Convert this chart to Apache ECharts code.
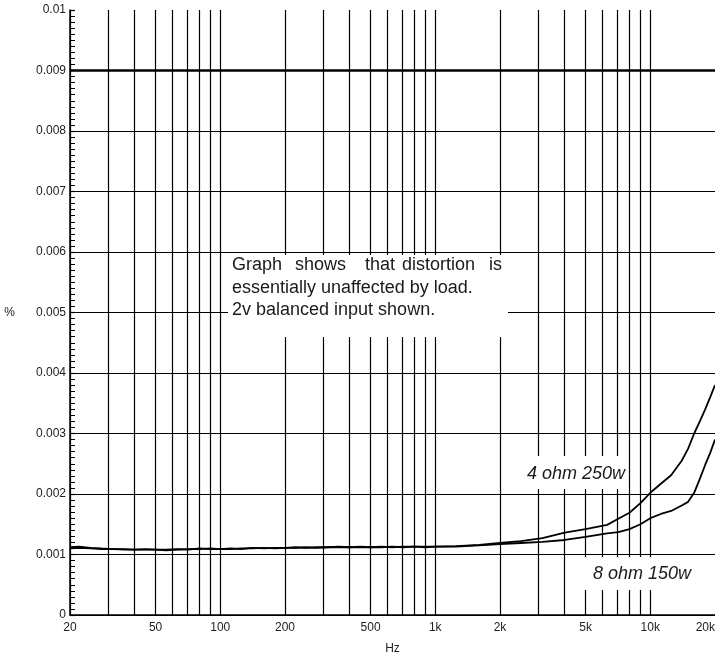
<!DOCTYPE html>
<html>
<head>
<meta charset="utf-8">
<script src="https://cdn.jsdelivr.net/npm/echarts@6/dist/echarts.min.js"></script>
<style>
  html, body { margin: 0; padding: 0; background: #fff; }
  #chart { width: 715px; height: 658px; }
</style>
</head>
<body>
<div id="chart"></div>
<script>
// THD+N vs frequency, two load conditions
const freqs = [20, 22, 25, 28, 32, 36, 40, 45, 50, 56, 63, 71, 80, 90, 100, 112, 125, 140, 160, 180,
  200, 225, 250, 280, 315, 355, 400, 450, 500, 560, 630, 710, 800, 900, 1000, 1250, 1600, 2000, 2500,
  3150, 4000, 5000, 6300, 7100, 8000, 9000, 10000, 11200, 12500, 14000, 15000, 16000, 17000, 18000,
  19000, 20000];

const thd4ohm = [0.00112, 0.00113, 0.00111, 0.00110, 0.00109, 0.00109, 0.00108, 0.00109, 0.00108, 0.00108,
  0.00109, 0.00108, 0.00110, 0.00109, 0.00109, 0.00110, 0.00109, 0.00111, 0.00110, 0.00111,
  0.00111, 0.00112, 0.00111, 0.00112, 0.00112, 0.00113, 0.00112, 0.00112, 0.00112, 0.00113,
  0.00112, 0.00113, 0.00113, 0.00113, 0.00113, 0.00114, 0.00116, 0.00119, 0.00122,
  0.00127, 0.00136, 0.00142, 0.00149, 0.00159, 0.00169, 0.00185, 0.00202, 0.00217, 0.00231, 0.00255,
  0.00275, 0.00300, 0.00320, 0.00340, 0.00360, 0.00380];

const thd8ohm = [0.00110, 0.00111, 0.00110, 0.00109, 0.00109, 0.00108, 0.00108, 0.00108, 0.00108, 0.00107,
  0.00108, 0.00109, 0.00109, 0.00110, 0.00109, 0.00109, 0.00110, 0.00110, 0.00111, 0.00110,
  0.00111, 0.00111, 0.00112, 0.00111, 0.00112, 0.00112, 0.00112, 0.00113, 0.00112, 0.00112,
  0.00113, 0.00112, 0.00113, 0.00112, 0.00113, 0.00113, 0.00115, 0.00117, 0.00119,
  0.00121, 0.00124, 0.00129, 0.00135, 0.00137, 0.00142, 0.00150, 0.00160, 0.00167, 0.00172, 0.00181,
  0.00187, 0.00202, 0.00225, 0.00248, 0.00268, 0.00290];

// Frequency axis: grid lines and labels
const gridFreqs = [20, 30, 40, 50, 60, 70, 80, 90, 100, 200, 300, 400, 500, 600, 700, 800, 900,
  1000, 2000, 3000, 4000, 5000, 6000, 7000, 8000, 9000, 10000];
const labelFreqs = [20, 50, 100, 200, 500, 1000, 2000, 5000, 10000, 20000];
const labelText = { 20: '20', 50: '50', 100: '100', 200: '200', 500: '500', 1000: '1k',
  2000: '2k', 5000: '5k', 10000: '10k', 20000: '20k' };

// Heavier reference grid line
const refLevel = 0.009;
const refSpan = [20, 20000];

const note = ['essentially unaffected by load.', '2v balanced input shown.'];
const noteFirstLine = ['Graph', 'shows', 'that', 'distortion', 'is'];

const chart = echarts.init(document.getElementById('chart'), null, { renderer: 'canvas' });

const textFont = '18px "Liberation Sans", Arial, sans-serif';
const italicFont = 'italic 18px "Liberation Sans", Arial, sans-serif';

const wordX = [232, 295, 365, 402, 489];

const graphics = [
  // white panels behind the annotations
  { type: 'rect', z: 50, shape: { x: 228, y: 255, width: 280, height: 82 }, style: { fill: '#fff' } },
  { type: 'rect', z: 50, shape: { x: 521, y: 456, width: 107, height: 33 }, style: { fill: '#fff' } },
  { type: 'rect', z: 50, shape: { x: 576, y: 557, width: 126, height: 33 }, style: { fill: '#fff' } },
  { type: 'text', z: 51, style: { text: note[0], x: 232, y: 288, font: textFont, fill: '#1a1a1a', textVerticalAlign: 'middle', verticalAlign: 'middle' } },
  { type: 'text', z: 51, style: { text: note[1], x: 232, y: 310, font: textFont, fill: '#1a1a1a', textVerticalAlign: 'middle', verticalAlign: 'middle' } },
  { type: 'text', z: 51, style: { text: '4 ohm 250w', x: 527, y: 474, font: italicFont, fill: '#1a1a1a', textVerticalAlign: 'middle', verticalAlign: 'middle' } },
  { type: 'text', z: 51, style: { text: '8 ohm 150w', x: 593, y: 574, font: italicFont, fill: '#1a1a1a', textVerticalAlign: 'middle', verticalAlign: 'middle' } }
];
noteFirstLine.forEach(function (w, i) {
  graphics.push({ type: 'text', z: 51, style: { text: w, x: wordX[i], y: 265, font: textFont, fill: '#1a1a1a', textVerticalAlign: 'middle', verticalAlign: 'middle' } });
});

function pairs(vals) {
  return freqs.map(function (f, i) { return [f, vals[i]]; });
}

chart.setOption({
  animation: false,
  backgroundColor: '#fff',
  grid: { left: 70, right: 0, top: 10, bottom: 43, containLabel: false, outerBoundsMode: 'none' },
  xAxis: {
    type: 'log',
    logBase: 10,
    min: 20,
    max: 20000,
    name: 'Hz',
    nameLocation: 'middle',
    nameGap: 28,
    nameTextStyle: { fontSize: 12, color: '#222', fontFamily: '"Liberation Sans", Arial, sans-serif' },
    axisLine: { show: true, lineStyle: { color: '#000', width: 1.5 } },
    axisTick: { show: false, customValues: gridFreqs },
    axisLabel: {
      customValues: labelFreqs,
      margin: 7,
      fontSize: 12,
      color: '#222',
      alignMaxLabel: 'right',
      fontFamily: '"Liberation Sans", Arial, sans-serif',
      formatter: function (v) { return labelText[Math.round(v)] || ''; }
    },
    splitLine: { show: true, lineStyle: { color: '#000', width: 1.2 } },
    minorTick: { show: false },
    minorSplitLine: { show: false }
  },
  yAxis: {
    type: 'value',
    min: 0,
    max: 0.01,
    interval: 0.001,
    name: '%',
    nameLocation: 'middle',
    nameRotate: 0,
    nameGap: 55,
    nameTextStyle: { fontSize: 12, color: '#222', fontFamily: '"Liberation Sans", Arial, sans-serif' },
    axisLine: { show: true, lineStyle: { color: '#000', width: 1.5 } },
    axisTick: { show: true, inside: true, length: 5, lineStyle: { color: '#000', width: 1.2 } },
    minorTick: { show: true, splitNumber: 10, length: 5, lineStyle: { color: '#000', width: 1 } },
    axisLabel: {
      margin: 4,
      fontSize: 12,
      color: '#222',
      fontFamily: '"Liberation Sans", Arial, sans-serif',
      formatter: function (v) {
        if (v === 0) return '0';
        return v.toFixed(3).replace(/0+$/, '');
      }
    },
    splitLine: { show: true, showMaxLine: false, lineStyle: { color: '#000', width: 1.2 } }
  },
  series: [
    {
      name: 'ref',
      type: 'line',
      data: refSpan.map(function (f) { return [f, refLevel]; }),
      showSymbol: false,
      symbol: 'none',
      silent: true,
      lineStyle: { color: '#000', width: 2.4 },
      z: 4
    },
    {
      name: '4 ohm 250w',
      type: 'line',
      data: pairs(thd4ohm),
      showSymbol: false,
      symbol: 'none',
      lineStyle: { color: '#000', width: 1.8 },
      z: 5
    },
    {
      name: '8 ohm 150w',
      type: 'line',
      data: pairs(thd8ohm),
      showSymbol: false,
      symbol: 'none',
      lineStyle: { color: '#000', width: 1.8 },
      z: 5
    }
  ],
  graphic: graphics
});
</script>
</body>
</html>
